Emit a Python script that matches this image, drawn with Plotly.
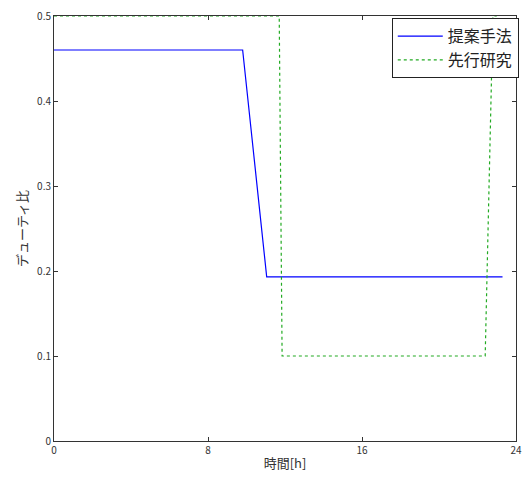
import plotly.graph_objects as go

# Data
prop_x = [0, 9.8, 11.05, 23.3]
prop_y = [0.46, 0.46, 0.193, 0.193]
prev_x = [0, 11.7, 11.85, 22.4, 22.8, 23.0]
prev_y = [0.5, 0.5, 0.1, 0.1, 0.5, 0.5]
x_ticks = [0, 8, 16, 24]
y_ticks = [0, 0.1, 0.2, 0.3, 0.4, 0.5]
y_tick_text = ["0", "0.1", "0.2", "0.3", "0.4", "0.5"]

font = "Noto Sans CJK JP"

fig = go.Figure()
fig.add_trace(go.Scatter(x=prop_x, y=prop_y, mode="lines", name="提案手法",
                         line=dict(color="#0000ff", width=1.2)))
fig.add_trace(go.Scatter(x=prev_x, y=prev_y, mode="lines", name="先行研究",
                         line=dict(color="#22aa22", width=1.2, dash="dot")))

axis_common = dict(showline=True, linecolor="#333333", linewidth=1, mirror="ticks",
                   ticks="inside", ticklen=4, tickcolor="#333333", showgrid=False,
                   zeroline=False, automargin=False, ticklabeloverflow="allow",
                   tickfont=dict(family=font, size=10, color="#333333"))

# page body has an 8px margin; compensate so the plot lands where the reference's does
fig.update_layout(
    width=523, height=471,
    margin=dict(l=46, r=15, t=8, b=38, autoexpand=False),
    paper_bgcolor="white", plot_bgcolor="white",
    font=dict(family=font),
    xaxis=dict(range=[0, 24], tickvals=x_ticks, ticktext=[str(v) for v in x_ticks],
               title=dict(text="時間[h]", font=dict(family=font, size=13, color="#333333"), standoff=2),
               **axis_common),
    yaxis=dict(range=[0, 0.5], tickvals=y_ticks, ticktext=y_tick_text,
               title=dict(text="デューティ比", font=dict(family=font, size=13, color="#333333"), standoff=6),
               **axis_common),
    legend=dict(x=1.006, y=0.995, xanchor="right", yanchor="top",
                bgcolor="white", bordercolor="#222222", borderwidth=1,
                font=dict(family=font, size=16, color="#222222"),
                tracegroupgap=0, itemwidth=45),
    showlegend=True,
)

fig.write_html("out.html")
